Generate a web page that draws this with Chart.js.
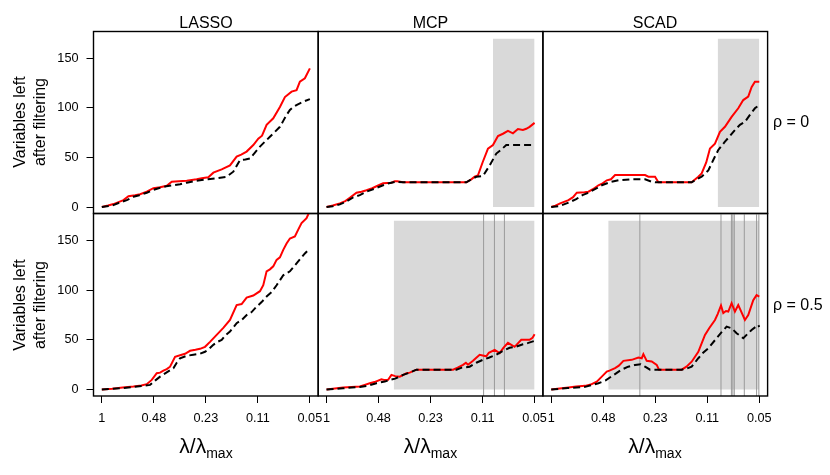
<!DOCTYPE html>
<html><head><meta charset="utf-8">
<script src="https://cdn.jsdelivr.net/npm/chart.js@4.4.1/dist/chart.umd.min.js"></script>
<style>
html,body{margin:0;padding:0;background:#fff;}
#wrap{position:relative;width:830px;height:475px;overflow:hidden;font-family:"Liberation Sans",Arial,sans-serif;color:#000;}
#wrap canvas{position:absolute;left:0;top:0;}
.t{position:absolute;white-space:nowrap;transform:translate(-50%,-50%);line-height:1;}
.strip{font-size:16px;}
.rho{font-size:16px;transform:translate(0,-50%);}
.yt{font-size:16px;line-height:20px;text-align:center;transform:translate(-50%,-50%) rotate(-90deg);}
.xt{font-size:21px;}
.xt sub{font-size:14px;vertical-align:-5px;line-height:0;}
</style></head><body>
<div id="wrap">
<canvas id="c0" width="830" height="475"></canvas>
<canvas id="c1" width="830" height="475"></canvas>
<canvas id="c2" width="830" height="475"></canvas>
<canvas id="c3" width="830" height="475"></canvas>
<canvas id="c4" width="830" height="475"></canvas>
<canvas id="c5" width="830" height="475"></canvas>
<div class="t strip" style="left:206px;top:23px">LASSO</div>
<div class="t strip" style="left:430.5px;top:23px">MCP</div>
<div class="t strip" style="left:655px;top:23px">SCAD</div>
<div class="t rho" style="left:773px;top:122px">ρ = 0</div>
<div class="t rho" style="left:773px;top:305px">ρ = 0.5</div>
<div class="t yt" style="left:30px;top:122px">Variables left<br>after filtering</div>
<div class="t yt" style="left:30px;top:305px">Variables left<br>after filtering</div>
<div class="t xt" style="left:206px;top:445px">λ/λ<sub>max</sub></div>
<div class="t xt" style="left:430.5px;top:445px">λ/λ<sub>max</sub></div>
<div class="t xt" style="left:655px;top:445px">λ/λ<sub>max</sub></div>
</div>
<script>
// ---- axis ticks ----
const tickIdx = [0, 25, 50, 75, 100];
const tickLabels = ["1", "0.48", "0.23", "0.11", "0.05"];
const yTicks = [0, 50, 100, 150];
const X_MIN = -4, X_MAX = 104, Y_MIN = -6.5, Y_MAX = 177.2;

// ---- LASSO, rho = 0 ----
const lassoR0RedIdx = [0,3,5.6,8,10.4,12.8,16,18.4,21.6,24.8,28,31.2,33.6,37,40.8,45.6,48,51.2,53.6,57.6,61.6,64.8,67,69.6,72.8,75.2,77,79.2,82.4,85.6,88,91.2,93.6,95.2,97.6,100];
const lassoR0Red    = [0,1.5,3,5,7,11,12,13,15.5,19,20,21.5,25.5,26,26.6,28,29,30,34.7,38,42,51,53,56,62.6,69,72,83,89.6,101,111,116.5,118,126.6,130,140];
const lassoR0BlkIdx = [0,5,8.8,12,15.2,18,21.6,25,28,31,34.4,37.6,40.8,44,47.2,51,55.2,60,63.2,66.4,69,71.2,73.6,76,78.4,80.8,83.2,85.6,87.2,88.8,90.4,92,94,95.2,97.6,100];
const lassoR0Blk    = [0,1.5,4.7,7,10.4,12,14.5,17.5,19.5,21,22,23,24.6,26,27,28,29,30.6,35.7,47.5,48,49,55,61,66,71,76,81,87,93,98,101,103.5,104.7,107,109];

// ---- LASSO, rho = 0.5 ----
const lassoR5RedIdx = [0,5,10,15.2,19,21.6,24,26.4,28,29.6,31.2,32.8,35.2,38.4,40,42.4,45,47.2,49.6,52,55.2,58.4,61.6,64.8,67.2,69.6,72.8,76,77.6,79.2,80.8,82.4,84,85.6,87.2,88.8,90.4,92.8,94.4,96,98.4,100];
const lassoR5Red    = [0,0.8,2,3,4,5.4,9.7,16.4,17,19,20.5,23,33,35,36,39,40,41,43,48,55,62,70,85,86,92.6,94.6,99,105,119,121,124,130.5,133,140.6,147,152,154,161,167.5,172.5,180];
const lassoR5BlkIdx = [0,10,17,21,23.2,25.6,28,31,34.4,36,37.6,40.8,44,47.2,49.6,51.6,53.6,55.6,57.6,59.6,61.6,64.8,67.2,69.6,72,74.4,76.8,79.2,81.6,84,85.6,87.2,88.8,90.4,92,93.6,95.6,97.6,99];
const lassoR5Blk    = [0,1.5,3,4,4.7,9,13,17,21.5,27,31.5,34,35,36,38,41,45,48,50,55,58.4,66.8,70,75,78,83.5,88,93.6,98,105,110,115,117,119,123,127,132,137,140];

// ---- MCP, rho = 0 ----
const mcpR0RedIdx = [0,3,6.4,9,11.2,14.4,16.8,19.2,22,24,27.2,31.2,32.8,34,36.8,50,67.2,69.6,71.2,72.8,75,77.6,80,82.4,84.8,87.2,89.6,92,94.4,96,97.6,100];
const mcpR0Red    = [0,1.5,3.7,6,9.4,14.5,15.5,17,19,21,24,24.6,26,26,25,25,25,28,30.6,32,45,59,62.6,71.7,74,76.8,74.4,78.8,77.8,79,81,85];
const mcpR0BlkIdx = [0,3,6.4,9,12.8,16,19.2,23,27.2,30,33.6,36.8,67.2,70,72,75.2,78.4,81.6,84,86.4,100];
const mcpR0Blk    = [0,0.8,2.7,5,9.8,12,15.5,18.5,22,24,25.6,25,25,28.5,30.6,31.3,42,54,58,62.6,62.6];

// ---- MCP, rho = 0.5 ----
const mcpR5RedIdx = [0,4,8,12,16,18,20.8,23,26.4,28,29.6,31.2,33,35.2,38.4,40,43.2,60.8,63,65.6,67,68,70.4,72,73.6,76.8,78,80.8,83.2,85,87.2,90.4,93.6,97.6,99,100];
const mcpR5Red    = [0,1,2,2.5,3,4.5,6.4,7.5,10.4,9.5,9.7,14.8,13.5,13,16.4,17,20,20,22,24.8,27,25,28.9,32,35,33.5,37,40,36.6,42,47,43,50,50,52,55.7];
const mcpR5BlkIdx = [0,8,16,20,24,28,30.4,33,36.8,40,43.2,62.4,65,68.8,72,75.2,78,81.6,84,88,91,94.4,97,100];
const mcpR5Blk    = [0,1.3,2.5,4,6.4,8,9.7,11,14.8,17,20,20,22,23,27,30,32,35,38,42,43,45.6,47,49];

// ---- SCAD, rho = 0 ----
const scadR0RedIdx = [0,2,4.3,8.3,10.5,12.3,16,17.9,20,22.7,24.7,26.7,28.7,30.7,45.1,46.7,49.9,51.5,67.5,70.7,72.3,74.5,76.3,78.7,81.1,83.5,86.7,89.9,92.3,94.7,96.3,97.9,100];
const scadR0Red    = [0,1.5,3.7,7,10,14.5,15,15.5,18,22,24,27,28,32.3,32.3,30.6,30.6,25,25,30.6,34,45,59,64,76,81,91,99.7,108,111.4,121,126.6,126.6];
const scadR0BlkIdx = [0,4,8.3,12,15,17.9,21,24.3,28,32.3,38,45.1,48.3,50,67.5,70,72.3,75.5,78,80.3,83.5,86,88.3,90.7,93.1,95.5,97.9,100];
const scadR0Blk    = [0,1,4.4,8,12,14.5,18,22,25,27,28,28,25.6,25,25,28,30.6,37,48,57.6,66,72,77.8,83,86,93,99.7,103];

// ---- SCAD, rho = 0.5 ----
const scadR5RedIdx = [0,4,8.3,12,16.3,19,21.9,24.3,26.7,28,30.7,32.5,34.7,38.7,41.9,43.5,44.3,45.9,48.3,50.7,51.8,62.7,65,67.5,70.7,73.9,76,78.7,80,81.6,82.7,84,85.1,86.7,88.3,89.9,91,93.1,94.7,97.1,98.7,100];
const scadR5Red    = [0,1,2,3,3.7,5,8,13,18,19,21.5,24,28.9,29.9,32.2,31.5,35.6,28.9,28.2,24.8,20,20,23,28,38,55,62,70,76,84.6,77,79,78.5,87,78.5,85,80,70,75,90,95,93.6];
const scadR5BlkIdx = [0,8,16.3,22.7,26,28.8,31,33.6,37,40.3,43,45.1,47.5,62.7,65,67.5,70.7,73,75.5,79.5,82,84.3,86.7,89.1,92.3,96.3,99.5,100];
const scadR5Blk    = [0,1.5,2.7,6.4,9,13,16,19.8,23,24.8,25.5,23,20,20,21,23,31.5,37,41.6,51.7,58,63.4,61.7,56.7,51.7,60,65,63];

// ---- shaded regions [from index, to index] and their height ----
const shadeTop = 170;
const shadeMcpR0 = [80, 100];
const shadeScadR0 = [80, 100];
const shadeMcpR5 = [32.3, 100];
const shadeScadR5 = [27.4, 100];

// ---- vertical reference lines (index positions) ----
const vlinesMcpR5 = [75.5, 80.7, 85.5];
const vlinesScadR5 = [42.6, 81.6, 86.6, 87.3, 88.0, 92.8, 98.7, 99.8];

// ---------- drawing ----------
const FONT = {family: '"Liberation Sans", Arial, sans-serif', size: 12.7};
const colLeft = [93.5, 318.2, 542.9], panelW = 224.7;
const rowTop = [31.5, 213.5], rowH = [182, 182.5];
const CW = 830, CH = 475, YW = 60, XH = 40;

function pts(idx, vals) { return idx.map((x, i) => ({x: x, y: vals[i]})); }

const borderPlugin = {
  id: 'panelBorder',
  afterDatasetsDraw(chart) {
    const a = chart.chartArea, ctx = chart.ctx;
    ctx.save();
    ctx.strokeStyle = '#000';
    ctx.lineWidth = 1.4;
    ctx.strokeRect(a.left, a.top, a.right - a.left, a.bottom - a.top);
    ctx.restore();
  }
};

function makePanel(id, col, row, red, blk, shade, vlines) {
  const L = colLeft[col], T = rowTop[row], H = rowH[row];
  const showY = col === 0, showX = row === 1;
  const ds = [];
  ds.push({data: pts(blk[0], blk[1]), borderColor: '#000', borderWidth: 2, borderDash: [7, 4], order: 0});
  ds.push({data: pts(red[0], red[1]), borderColor: '#ff0000', borderWidth: 2, order: 1});
  (vlines || []).forEach(v => ds.push({data: [{x: v, y: Y_MIN}, {x: v, y: Y_MAX}], borderColor: '#9a9a9a', borderWidth: 1, order: 2}));
  if (shade) ds.push({data: [{x: shade[0], y: shadeTop}, {x: shade[1], y: shadeTop}], borderColor: 'rgba(0,0,0,0)', borderWidth: 0, backgroundColor: '#d9d9d9', fill: {value: 0}, order: 3});
  ds.forEach(d => { d.pointRadius = 0; d.pointHoverRadius = 0; d.tension = 0; if (d.fill === undefined) d.fill = false; });

  new Chart(document.getElementById(id), {
    type: 'line',
    data: {datasets: ds},
    plugins: [borderPlugin],
    options: {
      responsive: false, animation: false, devicePixelRatio: 1,
      events: [],
      layout: {padding: {
        left: L - (showY ? YW : 0),
        top: T,
        right: CW - (L + panelW),
        bottom: CH - (T + H) - (showX ? XH : 0)
      }},
      plugins: {legend: {display: false}, tooltip: {enabled: false}, title: {display: false}},
      scales: {
        x: {
          type: 'linear', min: X_MIN, max: X_MAX, display: showX,
          afterBuildTicks: s => { s.ticks = tickIdx.map(v => ({value: v})); },
          afterFit: s => { s.height = showX ? XH : 0; },
          ticks: {callback: v => { const i = tickIdx.indexOf(v); return i < 0 ? '' : tickLabels[i]; },
                  font: FONT, color: '#000', padding: 8, maxRotation: 0, autoSkip: false},
          grid: {drawOnChartArea: false, drawTicks: true, tickLength: 7, color: '#000', lineWidth: 1},
          border: {display: false}
        },
        y: {
          type: 'linear', min: Y_MIN, max: Y_MAX, display: showY,
          afterBuildTicks: s => { s.ticks = yTicks.map(v => ({value: v})); },
          afterFit: s => { s.width = showY ? YW : 0; },
          ticks: {font: FONT, color: '#000', padding: 8, autoSkip: false},
          grid: {drawOnChartArea: false, drawTicks: true, tickLength: 7, color: '#000', lineWidth: 1},
          border: {display: false}
        }
      }
    }
  });
}

makePanel('c0', 0, 0, [lassoR0RedIdx, lassoR0Red], [lassoR0BlkIdx, lassoR0Blk], null, null);
makePanel('c1', 1, 0, [mcpR0RedIdx, mcpR0Red], [mcpR0BlkIdx, mcpR0Blk], shadeMcpR0, null);
makePanel('c2', 2, 0, [scadR0RedIdx, scadR0Red], [scadR0BlkIdx, scadR0Blk], shadeScadR0, null);
makePanel('c3', 0, 1, [lassoR5RedIdx, lassoR5Red], [lassoR5BlkIdx, lassoR5Blk], null, null);
makePanel('c4', 1, 1, [mcpR5RedIdx, mcpR5Red], [mcpR5BlkIdx, mcpR5Blk], shadeMcpR5, vlinesMcpR5);
makePanel('c5', 2, 1, [scadR5RedIdx, scadR5Red], [scadR5BlkIdx, scadR5Blk], shadeScadR5, vlinesScadR5);
</script>
</body></html>
